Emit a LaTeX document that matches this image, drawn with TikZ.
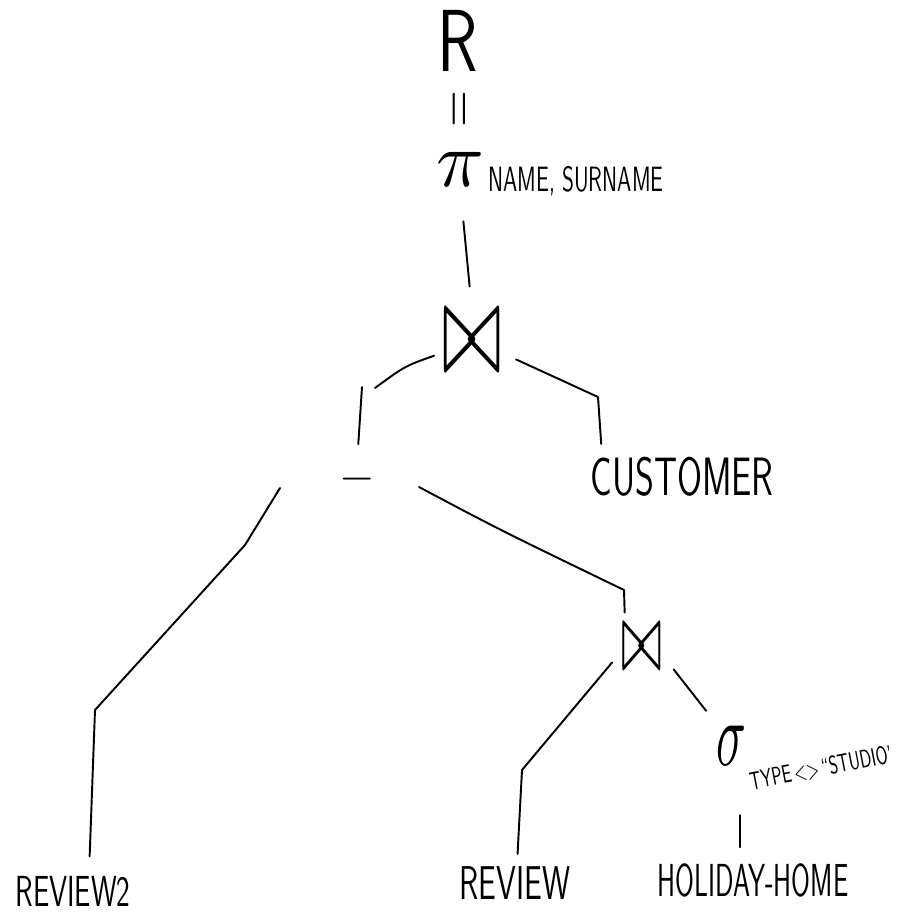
\documentclass[tikz,border=0pt]{standalone}
\usepackage{graphicx}
\usetikzlibrary{positioning}

\tikzset{
  word/.style={font=\sffamily, inner sep=1pt},
  op/.style={inner sep=0pt},
  edge/.style={line width=1.1pt, line cap=round, line join=round},
}

\begin{document}
\begin{tikzpicture}[x=0.02cm, y=-0.02cm]
\useasboundingbox (0,0) rectangle (898,912);

% result and projection
\node[op, font=\sffamily\fontsize{38}{38}\selectfont] (res) at (458,41) {\scalebox{1}[1.32]{R}};
\node[op, rotate=90] (eq) at (463,109) {\scalebox{2.7}[3]{$=$}};
\node[op] (proj) at (460,169) {\scalebox{4.5}{$\pi$}};
\node[word, font=\sffamily\fontsize{12.5}{12.5}\selectfont] (projattr) at (576,181) {\scalebox{1}[1.6]{NAME, SURNAME}};

% joins, difference and selection
\node[op] (join1) at (472,342) {\scalebox{4}[7.5]{$\bowtie$}};
\node[op] (diff) at (357,479) {\scalebox{2.6}{$-$}};
\node[op] (join2) at (642,648) {\scalebox{2.8}[5.6]{$\bowtie$}};
\node[op] (sel) at (731,746) {\scalebox{2.8}[5.2]{$\sigma$}};
\node[word, rotate=11, font=\sffamily\fontsize{9}{9}\selectfont] (selcond) at (821,768) {\scalebox{1}[1.6]{TYPE\,<>\,``STUDIO'}};

% relations
\node[word, font=\sffamily\fontsize{20.5}{20.5}\selectfont] (cust) at (682,477) {\scalebox{1}[1.5]{CUSTOMER}};
\node[word, font=\sffamily\fontsize{16.5}{16.5}\selectfont] (rev2) at (73,891) {\scalebox{1}[1.5]{REVIEW2}};
\node[word, font=\sffamily\fontsize{18}{18}\selectfont] (rev) at (515,883) {\scalebox{1}[1.5]{REVIEW}};
\node[word, font=\sffamily\fontsize{15.5}{15.5}\selectfont] (hh) at (753,880) {\scalebox{1}[1.7]{HOLIDAY-HOME}};

% bends
\coordinate (b1) at (375,388);
\coordinate (b2) at (362,387);
\coordinate (b3) at (598,397);
\coordinate (d1) at (280,488);
\coordinate (b4) at (245,545);
\coordinate (b5) at (95,710);
\coordinate (d2) at (419,487);
\coordinate (b6) at (624,590);
\coordinate (b7) at (522,770);

% connectors
\draw[edge, shorten <=20pt, shorten >=14pt] (proj.south) -- (join1.north);
\draw[edge, shorten <=5pt] (join1.200) .. controls (405,366) .. (b1);
\draw[edge, shorten >=11pt] (b2) -- (diff.north);
\draw[edge, shorten <=9pt, shorten >=6.5pt] (join1.340) -- (b3) -- (cust.north -| 602,0);
\draw[edge, shorten >=10pt] (d1) -- (b4) -- (b5) -- (rev2.north -| 89,0);
\draw[edge, shorten >=7pt] (d2) .. controls (500,530) .. (b6) -- (join2.north -| 625,0);
\draw[edge, shorten <=8pt, shorten >=6pt] (join2.190) -- (b7) -- (rev.north -| 517,0);
\draw[edge, shorten <=10pt, shorten >=11pt] (join2.340) -- (sel.north -| 718,0);
\draw[edge, shorten <=28pt, shorten >=8pt] (sel.south -| 740,0) -- (hh.north -| 740,0);

\end{tikzpicture}
\end{document}
